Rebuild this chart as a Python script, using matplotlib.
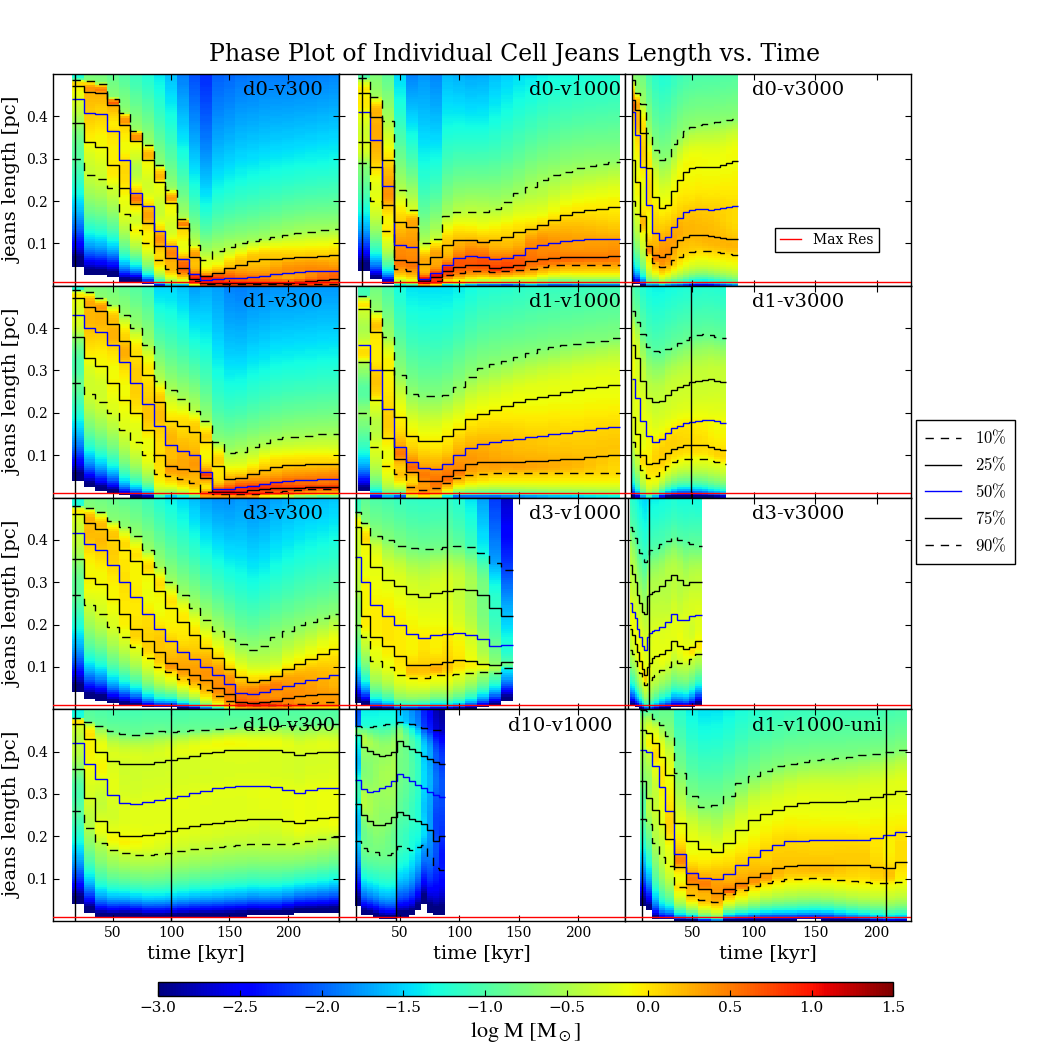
import numpy as np
import matplotlib
matplotlib.use("Agg")
import matplotlib.pyplot as plt
from matplotlib.lines import Line2D

plt.rcParams.update({
    "font.family": "DejaVu Serif",
    "xtick.direction": "in", "ytick.direction": "in",
    "xtick.top": True, "ytick.right": True,
    "xtick.major.size": 4, "ytick.major.size": 4,
    "axes.linewidth": 1.0,
})

# ---------------- data ----------------
PCT_LABELS = ["10%", "25%", "50%", "75%", "90%"]
MAX_RES = 0.01
CBAR_TICKS = [-3.0, -2.5, -2.0, -1.5, -1.0, -0.5, 0.0, 0.5, 1.0, 1.5]

T_LEFT = [20, 30, 40, 50, 60, 70, 80, 90, 100, 110, 120, 130, 140, 150, 160, 170, 180, 190, 200, 210, 220, 230, 240]
T_MID = [20, 30, 40, 50, 60, 70, 80, 90, 100, 110, 120, 130, 140, 150, 160, 170, 180, 190, 200, 210, 220, 230]

# d0-v300
d0v300_p10 = [0.30, 0.261, 0.252, 0.230, 0.169, 0.131, 0.100, 0.060, 0.040, 0.030, 0.012, 0.005, 0.005, 0.005, 0.005, 0.005, 0.005, 0.005, 0.005, 0.005, 0.005, 0.005, 0.005]
d0v300_p25 = [0.385, 0.340, 0.328, 0.285, 0.230, 0.193, 0.147, 0.095, 0.065, 0.042, 0.017, 0.0067, 0.0067, 0.0067, 0.0067, 0.0067, 0.0067, 0.0067, 0.0067, 0.008, 0.011, 0.014, 0.016]
d0v300_p50 = [0.44, 0.409, 0.405, 0.365, 0.298, 0.219, 0.188, 0.129, 0.094, 0.062, 0.028, 0.014, 0.015, 0.018, 0.019, 0.021, 0.023, 0.027, 0.031, 0.033, 0.035, 0.035, 0.035]
d0v300_p75 = [0.471, 0.458, 0.456, 0.427, 0.380, 0.341, 0.296, 0.246, 0.196, 0.137, 0.067, 0.023, 0.030, 0.041, 0.050, 0.058, 0.062, 0.064, 0.066, 0.067, 0.069, 0.070, 0.072]
d0v300_p90 = [0.487, 0.483, 0.477, 0.442, 0.407, 0.366, 0.333, 0.284, 0.227, 0.158, 0.096, 0.060, 0.081, 0.091, 0.100, 0.105, 0.111, 0.116, 0.121, 0.125, 0.128, 0.131, 0.134]

# d0-v1000
d0v1000_p10 = [0.29, 0.20, 0.13, 0.04, 0.036, 0.008, 0.012, 0.025, 0.030, 0.034, 0.035, 0.033, 0.035, 0.037, 0.040, 0.045, 0.048, 0.050, 0.050, 0.050, 0.050, 0.050]
d0v1000_p25 = [0.34, 0.28, 0.19, 0.06, 0.055, 0.012, 0.020, 0.035, 0.044, 0.048, 0.048, 0.042, 0.045, 0.050, 0.058, 0.062, 0.065, 0.067, 0.068, 0.069, 0.069, 0.070]
d0v1000_p50 = [0.41, 0.345, 0.235, 0.096, 0.092, 0.016, 0.030, 0.048, 0.065, 0.070, 0.068, 0.062, 0.065, 0.073, 0.088, 0.096, 0.100, 0.106, 0.109, 0.110, 0.110, 0.110]
d0v1000_p75 = [0.455, 0.399, 0.296, 0.151, 0.139, 0.052, 0.068, 0.096, 0.107, 0.107, 0.104, 0.107, 0.115, 0.127, 0.135, 0.143, 0.155, 0.166, 0.174, 0.178, 0.182, 0.186]
d0v1000_p90 = [0.49, 0.446, 0.39, 0.225, 0.178, 0.100, 0.110, 0.165, 0.174, 0.174, 0.174, 0.182, 0.198, 0.218, 0.233, 0.249, 0.261, 0.269, 0.277, 0.282, 0.287, 0.292]

# d0-v3000
d0v3000_t = [2, 5, 10, 15, 20, 25, 30, 35, 40, 45, 50, 55, 60, 65, 70, 75, 80, 85]
d0v3000_p10 = [0.20, 0.17, 0.125, 0.072, 0.054, 0.045, 0.050, 0.060, 0.068, 0.075, 0.080, 0.083, 0.083, 0.081, 0.079, 0.077, 0.075, 0.073]
d0v3000_p25 = [0.296, 0.245, 0.165, 0.095, 0.073, 0.068, 0.074, 0.092, 0.107, 0.114, 0.119, 0.121, 0.119, 0.117, 0.115, 0.113, 0.111, 0.110]
d0v3000_p50 = [0.41, 0.355, 0.28, 0.19, 0.125, 0.109, 0.115, 0.139, 0.160, 0.173, 0.178, 0.182, 0.181, 0.180, 0.181, 0.183, 0.186, 0.189]
d0v3000_p75 = [0.438, 0.415, 0.36, 0.278, 0.21, 0.184, 0.19, 0.223, 0.250, 0.268, 0.277, 0.280, 0.280, 0.280, 0.281, 0.285, 0.290, 0.294]
d0v3000_p90 = [0.485, 0.455, 0.43, 0.36, 0.32, 0.298, 0.305, 0.335, 0.352, 0.365, 0.375, 0.380, 0.383, 0.385, 0.387, 0.389, 0.391, 0.393]

# d1-v300
d1v300_p10 = [0.27, 0.245, 0.225, 0.20, 0.16, 0.13, 0.10, 0.055, 0.05, 0.043, 0.035, 0.012, 0.008, 0.008, 0.008, 0.009, 0.012, 0.014, 0.016, 0.018, 0.019, 0.020, 0.020]
d1v300_p25 = [0.38, 0.33, 0.31, 0.27, 0.23, 0.20, 0.16, 0.10, 0.075, 0.068, 0.063, 0.045, 0.012, 0.012, 0.013, 0.018, 0.020, 0.022, 0.023, 0.023, 0.024, 0.024, 0.025]
d1v300_p50 = [0.43, 0.40, 0.39, 0.36, 0.32, 0.27, 0.22, 0.17, 0.125, 0.11, 0.10, 0.06, 0.02, 0.02, 0.024, 0.028, 0.032, 0.036, 0.040, 0.041, 0.042, 0.043, 0.044]
d1v300_p75 = [0.47, 0.45, 0.44, 0.41, 0.37, 0.335, 0.29, 0.225, 0.18, 0.168, 0.155, 0.13, 0.075, 0.044, 0.046, 0.055, 0.066, 0.073, 0.076, 0.077, 0.078, 0.079, 0.079]
d1v300_p90 = [0.49, 0.485, 0.47, 0.455, 0.43, 0.40, 0.36, 0.275, 0.255, 0.232, 0.205, 0.18, 0.132, 0.106, 0.108, 0.12, 0.128, 0.138, 0.142, 0.144, 0.146, 0.149, 0.150]

# d1-v1000
d1v1000_p10 = [0.20, 0.12, 0.075, 0.055, 0.025, 0.018, 0.022, 0.035, 0.047, 0.053, 0.056, 0.058, 0.058, 0.058, 0.058, 0.058, 0.058, 0.058, 0.058, 0.058, 0.058, 0.058]
d1v1000_p25 = [0.32, 0.23, 0.14, 0.09, 0.06, 0.04, 0.038, 0.05, 0.065, 0.078, 0.083, 0.084, 0.085, 0.085, 0.086, 0.087, 0.088, 0.090, 0.092, 0.095, 0.098, 0.101]
d1v1000_p50 = [0.36, 0.30, 0.21, 0.12, 0.085, 0.07, 0.068, 0.08, 0.10, 0.118, 0.127, 0.132, 0.136, 0.139, 0.142, 0.145, 0.149, 0.152, 0.156, 0.160, 0.163, 0.166]
d1v1000_p75 = [0.445, 0.39, 0.30, 0.19, 0.145, 0.133, 0.133, 0.145, 0.162, 0.185, 0.198, 0.207, 0.216, 0.225, 0.232, 0.238, 0.243, 0.249, 0.255, 0.258, 0.262, 0.266]
d1v1000_p90 = [0.475, 0.44, 0.38, 0.29, 0.245, 0.239, 0.239, 0.242, 0.26, 0.285, 0.305, 0.315, 0.322, 0.332, 0.342, 0.350, 0.355, 0.360, 0.363, 0.366, 0.370, 0.376]

# d1-v3000
d1v3000_t = [2, 5, 10, 15, 20, 25, 30, 35, 40, 45, 50, 55, 60, 65, 70, 75]
d1v3000_p10 = [0.13, 0.10, 0.065, 0.046, 0.05, 0.063, 0.075, 0.083, 0.088, 0.090, 0.091, 0.091, 0.090, 0.087, 0.084, 0.080]
d1v3000_p25 = [0.19, 0.15, 0.10, 0.08, 0.082, 0.092, 0.105, 0.115, 0.120, 0.123, 0.124, 0.124, 0.124, 0.120, 0.115, 0.111]
d1v3000_p50 = [0.28, 0.235, 0.18, 0.145, 0.132, 0.138, 0.152, 0.163, 0.170, 0.175, 0.178, 0.180, 0.182, 0.183, 0.180, 0.175]
d1v3000_p75 = [0.36, 0.33, 0.275, 0.235, 0.225, 0.227, 0.243, 0.253, 0.260, 0.266, 0.272, 0.275, 0.278, 0.280, 0.276, 0.272]
d1v3000_p90 = [0.44, 0.415, 0.385, 0.355, 0.345, 0.343, 0.35, 0.358, 0.365, 0.372, 0.378, 0.383, 0.386, 0.384, 0.380, 0.376]

# d3-v300
d3v300_p10 = [0.27, 0.245, 0.225, 0.195, 0.17, 0.148, 0.12, 0.10, 0.088, 0.072, 0.06, 0.045, 0.032, 0.02, 0.01, 0.009, 0.009, 0.010, 0.011, 0.013, 0.015, 0.016, 0.017]
d3v300_p25 = [0.355, 0.31, 0.295, 0.26, 0.225, 0.19, 0.16, 0.135, 0.11, 0.095, 0.082, 0.068, 0.05, 0.035, 0.018, 0.015, 0.016, 0.020, 0.026, 0.031, 0.034, 0.036, 0.037]
d3v300_p50 = [0.415, 0.39, 0.375, 0.34, 0.30, 0.265, 0.225, 0.19, 0.16, 0.135, 0.118, 0.10, 0.08, 0.06, 0.038, 0.035, 0.040, 0.048, 0.055, 0.062, 0.068, 0.074, 0.080]
d3v300_p75 = [0.46, 0.44, 0.425, 0.40, 0.375, 0.35, 0.32, 0.28, 0.24, 0.205, 0.175, 0.145, 0.12, 0.095, 0.075, 0.065, 0.068, 0.078, 0.095, 0.107, 0.118, 0.130, 0.143]
d3v300_p90 = [0.48, 0.475, 0.465, 0.445, 0.43, 0.41, 0.375, 0.335, 0.30, 0.27, 0.24, 0.21, 0.185, 0.165, 0.153, 0.14, 0.150, 0.170, 0.185, 0.198, 0.207, 0.215, 0.226]

# d3-v1000
d3v1000_t = [15, 20, 30, 40, 50, 60, 70, 80, 90, 100, 110, 120, 130, 140]
d3v1000_p10 = [0.20, 0.17, 0.115, 0.10, 0.08, 0.074, 0.073, 0.08, 0.08, 0.083, 0.086, 0.087, 0.085, 0.098]
d3v1000_p25 = [0.28, 0.22, 0.17, 0.15, 0.125, 0.104, 0.104, 0.106, 0.112, 0.117, 0.115, 0.108, 0.104, 0.112]
d3v1000_p50 = [0.36, 0.30, 0.245, 0.22, 0.20, 0.178, 0.168, 0.175, 0.177, 0.18, 0.175, 0.165, 0.15, 0.152]
d3v1000_p75 = [0.43, 0.39, 0.335, 0.305, 0.29, 0.272, 0.265, 0.275, 0.28, 0.285, 0.282, 0.27, 0.24, 0.22]
d3v1000_p90 = [0.465, 0.44, 0.41, 0.40, 0.385, 0.38, 0.379, 0.379, 0.382, 0.385, 0.383, 0.37, 0.345, 0.328]

# d3-v3000
d3v3000_t = [0, 2, 4, 6, 8, 10, 12, 14, 16, 18, 20, 25, 30, 35, 40, 45, 50, 55]
d3v3000_p10 = [0.14, 0.13, 0.115, 0.10, 0.085, 0.07, 0.058, 0.065, 0.07, 0.075, 0.082, 0.092, 0.10, 0.116, 0.11, 0.108, 0.118, 0.13]
d3v3000_p25 = [0.19, 0.175, 0.155, 0.135, 0.115, 0.095, 0.08, 0.10, 0.11, 0.12, 0.125, 0.13, 0.14, 0.162, 0.15, 0.143, 0.147, 0.16]
d3v3000_p50 = [0.25, 0.23, 0.215, 0.19, 0.17, 0.15, 0.14, 0.17, 0.18, 0.185, 0.188, 0.195, 0.205, 0.226, 0.21, 0.21, 0.22, 0.222]
d3v3000_p75 = [0.34, 0.32, 0.30, 0.27, 0.25, 0.23, 0.225, 0.268, 0.273, 0.277, 0.28, 0.29, 0.305, 0.316, 0.305, 0.293, 0.30, 0.30]
d3v3000_p90 = [0.43, 0.42, 0.405, 0.385, 0.368, 0.355, 0.348, 0.365, 0.375, 0.378, 0.38, 0.39, 0.398, 0.407, 0.40, 0.395, 0.39, 0.385]

# d10-v300
d10v300_p10 = [0.26, 0.22, 0.185, 0.167, 0.16, 0.157, 0.156, 0.158, 0.161, 0.165, 0.169, 0.172, 0.175, 0.178, 0.18, 0.182, 0.181, 0.181, 0.182, 0.184, 0.188, 0.193, 0.199]
d10v300_p25 = [0.36, 0.29, 0.235, 0.21, 0.20, 0.20, 0.203, 0.208, 0.213, 0.219, 0.224, 0.228, 0.232, 0.236, 0.238, 0.24, 0.242, 0.24, 0.236, 0.232, 0.238, 0.243, 0.245]
d10v300_p50 = [0.42, 0.37, 0.335, 0.298, 0.278, 0.276, 0.28, 0.285, 0.29, 0.296, 0.302, 0.308, 0.313, 0.317, 0.319, 0.318, 0.318, 0.316, 0.31, 0.302, 0.31, 0.314, 0.315]
d10v300_p75 = [0.465, 0.43, 0.40, 0.378, 0.371, 0.37, 0.371, 0.376, 0.38, 0.385, 0.39, 0.396, 0.40, 0.403, 0.404, 0.403, 0.403, 0.403, 0.398, 0.392, 0.396, 0.40, 0.399]
d10v300_p90 = [0.48, 0.47, 0.46, 0.448, 0.442, 0.44, 0.445, 0.448, 0.447, 0.448, 0.45, 0.452, 0.453, 0.455, 0.457, 0.458, 0.459, 0.46, 0.461, 0.462, 0.463, 0.464, 0.465]

# d10-v1000
d10v1000_t = [15, 20, 25, 30, 35, 40, 45, 50, 55, 60, 65, 70, 75, 80, 85]
d10v1000_p10 = [0.19, 0.173, 0.166, 0.162, 0.157, 0.156, 0.16, 0.176, 0.172, 0.168, 0.175, 0.18, 0.15, 0.125, 0.12]
d10v1000_p25 = [0.276, 0.25, 0.235, 0.227, 0.226, 0.232, 0.245, 0.257, 0.25, 0.242, 0.236, 0.228, 0.215, 0.19, 0.20]
d10v1000_p50 = [0.333, 0.312, 0.305, 0.308, 0.314, 0.318, 0.33, 0.348, 0.34, 0.33, 0.322, 0.313, 0.305, 0.298, 0.292]
d10v1000_p75 = [0.44, 0.41, 0.402, 0.395, 0.39, 0.392, 0.40, 0.425, 0.413, 0.405, 0.398, 0.39, 0.383, 0.375, 0.37]
d10v1000_p90 = [0.46, 0.458, 0.458, 0.46, 0.462, 0.464, 0.466, 0.47, 0.468, 0.465, 0.46, 0.455, 0.452, 0.45, 0.45]

# d1-v1000-uni
d1v1000uni_t = [10, 15, 20, 25, 30, 40, 50, 60, 70, 80, 90, 100, 110, 120, 130, 140, 150, 160, 170, 180, 190, 200, 210, 220]
d1v1000uni_p10 = [0.24, 0.23, 0.184, 0.152, 0.13, 0.081, 0.061, 0.05, 0.045, 0.063, 0.073, 0.082, 0.09, 0.095, 0.098, 0.10, 0.101, 0.10, 0.097, 0.094, 0.092, 0.09, 0.089, 0.093]
d1v1000uni_p25 = [0.33, 0.29, 0.262, 0.23, 0.194, 0.128, 0.087, 0.075, 0.066, 0.075, 0.09, 0.103, 0.113, 0.125, 0.131, 0.132, 0.132, 0.132, 0.132, 0.132, 0.132, 0.127, 0.124, 0.14]
d1v1000uni_p50 = [0.404, 0.398, 0.366, 0.317, 0.259, 0.158, 0.114, 0.102, 0.10, 0.112, 0.133, 0.152, 0.168, 0.18, 0.188, 0.19, 0.191, 0.191, 0.191, 0.191, 0.192, 0.197, 0.203, 0.21]
d1v1000uni_p75 = [0.452, 0.444, 0.42, 0.388, 0.345, 0.231, 0.19, 0.17, 0.163, 0.185, 0.215, 0.238, 0.252, 0.263, 0.272, 0.278, 0.281, 0.282, 0.282, 0.283, 0.287, 0.293, 0.30, 0.307]
d1v1000uni_p90 = [0.498, 0.495, 0.478, 0.463, 0.437, 0.349, 0.294, 0.27, 0.275, 0.295, 0.325, 0.343, 0.355, 0.365, 0.371, 0.375, 0.38, 0.383, 0.385, 0.388, 0.391, 0.395, 0.398, 0.404]

# estimated total mass per snapshot [Msun] of each run
MTOT = {"d0-v300": 60, "d0-v1000": 80, "d0-v3000": 75,
        "d1-v300": 65, "d1-v1000": 70, "d1-v3000": 45,
        "d3-v300": 60, "d3-v1000": 55, "d3-v3000": 33,
        "d10-v300": 40, "d10-v1000": 17, "d1-v1000-uni": 60}

MSCALE = {
    "d0-v300": [0.3] + [1.0] * 22,
    "d1-v300": [0.3] + [1.0] * 22,
    "d3-v300": [0.3] + [1.0] * 22,
    "d10-v300": [0.4] + [1.0] * 22,
    "d0-v1000": [0.4] + [1.0] * 21,
    "d1-v1000": [0.4] + [1.0] * 21,
    "d3-v1000": [0.5, 1, 1, 1, 1, 1, 1, 1, 1, 0.8, 0.55, 0.3, 0.12, 0.04],
    "d10-v1000": [0.2, 1, 1, 1, 1, 1, 1, 0.6, 0.5, 0.35, 0.25, 0.12, 0.08, 0.04, 0.03],
    "d1-v1000-uni": [0.25, 0.45, 0.7, 0.85] + [1.0] * 20,
}

# vertical marker lines [kyr]
VLINES = {"d0-v300": [17.7], "d0-v1000": [17.7], "d0-v3000": [0.6],
          "d1-v300": [17.7], "d1-v1000": [12.9], "d1-v3000": [0.1, 48.9],
          "d3-v300": [17.7], "d3-v1000": [7.3, 12.9, 89.8], "d3-v3000": [-2.0, 15.0],
          "d10-v300": [17.7, 100.0], "d10-v1000": [12.9, 46.3], "d1-v1000-uni": [9.3, 208.0]}

PANELS = [
    ["d0-v300", T_LEFT, [d0v300_p10, d0v300_p25, d0v300_p50, d0v300_p75, d0v300_p90]],
    ["d0-v1000", T_MID, [d0v1000_p10, d0v1000_p25, d0v1000_p50, d0v1000_p75, d0v1000_p90]],
    ["d0-v3000", d0v3000_t, [d0v3000_p10, d0v3000_p25, d0v3000_p50, d0v3000_p75, d0v3000_p90]],
    ["d1-v300", T_LEFT, [d1v300_p10, d1v300_p25, d1v300_p50, d1v300_p75, d1v300_p90]],
    ["d1-v1000", T_MID, [d1v1000_p10, d1v1000_p25, d1v1000_p50, d1v1000_p75, d1v1000_p90]],
    ["d1-v3000", d1v3000_t, [d1v3000_p10, d1v3000_p25, d1v3000_p50, d1v3000_p75, d1v3000_p90]],
    ["d3-v300", T_LEFT, [d3v300_p10, d3v300_p25, d3v300_p50, d3v300_p75, d3v300_p90]],
    ["d3-v1000", d3v1000_t, [d3v1000_p10, d3v1000_p25, d3v1000_p50, d3v1000_p75, d3v1000_p90]],
    ["d3-v3000", d3v3000_t, [d3v3000_p10, d3v3000_p25, d3v3000_p50, d3v3000_p75, d3v3000_p90]],
    ["d10-v300", T_LEFT, [d10v300_p10, d10v300_p25, d10v300_p50, d10v300_p75, d10v300_p90]],
    ["d10-v1000", d10v1000_t, [d10v1000_p10, d10v1000_p25, d10v1000_p50, d10v1000_p75, d10v1000_p90]],
    ["d1-v1000-uni", d1v1000uni_t, [d1v1000uni_p10, d1v1000uni_p25, d1v1000uni_p50, d1v1000uni_p75, d1v1000uni_p90]],
]

# ---------------- helpers ----------------
P_LEVELS = np.array([0.10, 0.25, 0.50, 0.75, 0.90])
J_EDGES = np.linspace(0.0, 0.5, 101)


def pchip(xk, yk, x, s_lo, s_hi):
    n = len(xk)
    h = np.diff(xk)
    dl = np.diff(yk) / h
    d = np.zeros(n)
    for k in range(1, n - 1):
        if dl[k - 1] * dl[k] > 0:
            w1 = 2 * h[k] + h[k - 1]
            w2 = h[k] + 2 * h[k - 1]
            d[k] = (w1 + w2) / (w1 / dl[k - 1] + w2 / dl[k])
    d[0] = s_lo
    d[-1] = s_hi
    y = np.empty_like(x)
    lo = x < xk[0]
    hi = x > xk[-1]
    mid = ~(lo | hi)
    y[lo] = yk[0] + d[0] * (x[lo] - xk[0])
    y[hi] = yk[-1] + d[-1] * (x[hi] - xk[-1])
    xm = x[mid]
    i = np.clip(np.searchsorted(xk, xm) - 1, 0, n - 2)
    s = (xm - xk[i]) / h[i]
    h00 = 2 * s**3 - 3 * s**2 + 1
    h10 = s**3 - 2 * s**2 + s
    h01 = -2 * s**3 + 3 * s**2
    h11 = s**3 - s**2
    y[mid] = h00 * yk[i] + h10 * h[i] * d[i] + h01 * yk[i + 1] + h11 * h[i] * d[i + 1]
    return y


def column_cdf(q):
    q = np.array(q, float)
    for i in range(1, len(q)):
        q[i] = max(q[i], q[i - 1] * 1.03)
    xk = np.log10(q)
    yk = np.log(P_LEVELS / (1 - P_LEVELS))
    s_hi = np.clip(0.85 * (yk[4] - yk[2]) / (xk[4] - xk[2]), 2.0, 8.0)
    s_lo = np.clip((yk[2] - yk[0]) / (xk[2] - xk[0]), 2.0, 10.0)
    x = np.log10(np.maximum(J_EDGES, 1e-6))
    y = pchip(xk, yk, x, s_lo, s_hi)
    p = 1.0 / (1.0 + np.exp(-y))
    p[J_EDGES <= 0] = 0.0
    return p


def time_edges(t):
    t = np.asarray(t, float)
    mid = 0.5 * (t[1:] + t[:-1])
    return np.concatenate([[t[0] - (t[1] - t[0]) / 2], mid, [t[-1] + (t[-1] - t[-2]) / 2]])


# ---------------- layout ----------------
W = 1059.0
fig = plt.figure(figsize=(10.59, 10.59), dpi=100)
col_x = [52.5, 338.5, 625.0]
col_w = 286.0
row_top = [74.0, 285.75, 497.5, 709.25]
row_h = 211.75
XLIMS = [(-1.6, 243.5), (-1.8, 239.0), (-4.8, 228.0)]
LABEL_X = {"d10-v1000": 0.593}
COL_LABEL_X = [0.667, 0.667, 0.443]

styles = [dict(color="k", ls=(0, (6, 5))), dict(color="k", ls="-"), dict(color="b", ls="-"),
          dict(color="k", ls="-"), dict(color="k", ls=(0, (6, 5)))]

mesh = None
for idx, (name, t, qs) in enumerate(PANELS):
    r, c = divmod(idx, 3)
    ax = fig.add_axes([col_x[c] / W, 1 - (row_top[r] + row_h) / W, col_w / W, row_h / W])
    qarr = np.array(qs)  # (5, nt)
    te = time_edges(t)
    scale = MSCALE.get(name, [1.0] * len(t))
    mass = np.array([MTOT[name] * scale[k] * np.diff(column_cdf(qarr[:, k])) for k in range(len(t))])
    with np.errstate(divide="ignore"):
        logm = np.log10(mass)
    logm = np.ma.masked_where(mass < 10**-3.6, logm)
    mesh = ax.pcolormesh(te, J_EDGES, logm.T, cmap="jet", vmin=-3, vmax=1.5, shading="flat")
    for k in range(5):
        ax.stairs(qarr[k], te, baseline=None, lw=1.0, zorder=3, **styles[k])
    for tv in VLINES[name]:
        ax.axvline(tv, color="k", lw=1.0, zorder=3)
    ax.axhline(MAX_RES, color="r", lw=1.0, zorder=4)
    ax.set_xlim(*XLIMS[c])
    ax.set_ylim(0, 0.5)
    ax.set_xticks([50, 100, 150, 200])
    ax.set_yticks([0.1, 0.2, 0.3, 0.4])
    ax.tick_params(labelsize=10)
    if c == 0:
        ax.set_ylabel("jeans length [pc]", fontsize=14, labelpad=3)
    else:
        ax.set_yticklabels([])
    if r == 3:
        ax.set_xlabel("time [kyr]", fontsize=14)
    else:
        ax.set_xticklabels([])
    ax.text(LABEL_X.get(name, COL_LABEL_X[c]), 0.965, name, transform=ax.transAxes,
            ha="left", va="top", fontsize=14, zorder=5)
    if name == "d0-v3000":
        leg = ax.legend([Line2D([], [], color="r", lw=1)], ["Max Res"], loc="center",
                        bbox_to_anchor=(0.706, 0.217), fontsize=10, fancybox=False,
                        edgecolor="k", framealpha=1, handlelength=1.5, borderpad=0.35,
                        handletextpad=0.9)
        leg.get_frame().set_linewidth(1.0)

fig.text(0.486, 1 - 55 / W, "Phase Plot of Individual Cell Jeans Length vs. Time",
         ha="center", va="center", fontsize=17)

handles = [Line2D([], [], lw=1.0, **s) for s in styles]
labels = [r"$%s\%%$" % lab[:-1] for lab in PCT_LABELS]
fl = fig.legend(handles, labels, loc="center", bbox_to_anchor=(0.9117, 0.5354), fontsize=12,
                fancybox=False, edgecolor="k", framealpha=1, handlelength=2.2,
                labelspacing=0.5, borderpad=0.55)
fl.get_frame().set_linewidth(1.0)
for tx in fl.get_texts():
    tx.set_math_fontfamily("cm")

cax = fig.add_axes([158.3 / W, 1 - 995.7 / W, 735.0 / W, 14.0 / W])
cb = fig.colorbar(mesh, cax=cax, orientation="horizontal", ticks=CBAR_TICKS)
cb.ax.tick_params(labelsize=11, direction="in", top=False)
cb.ax.set_xticklabels([("%.1f" % v).replace("-", "\u2212") for v in CBAR_TICKS])
cb.set_label(r"$\mathrm{log\ M\ [M_\odot]}$", fontsize=16, math_fontfamily="stix")

fig.savefig("out.png", dpi=100)
